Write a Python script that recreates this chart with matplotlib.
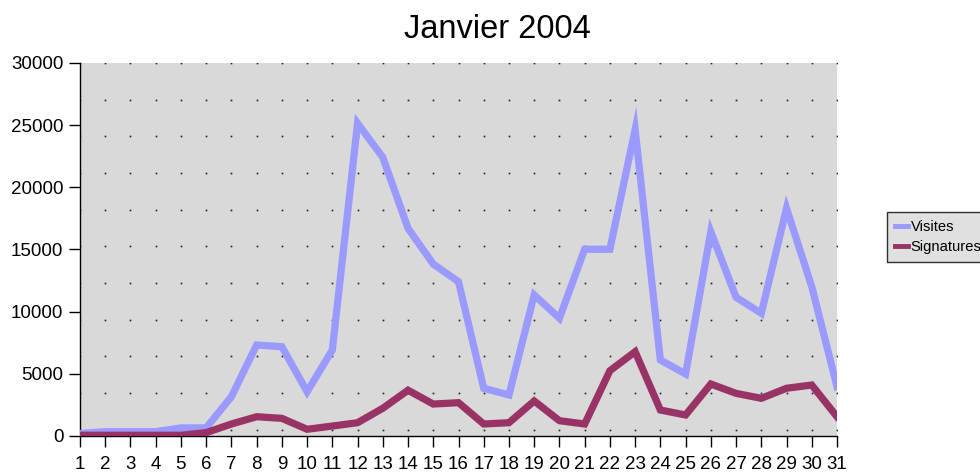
import matplotlib
matplotlib.use("Agg")
import matplotlib.pyplot as plt
import numpy as np

plt.rcParams['font.family'] = ['Liberation Sans', 'DejaVu Sans']

days = list(range(1, 32))
visites = [200, 350, 350, 350, 650, 650, 3160, 7320, 7180, 3560, 6920,
           25150, 22410, 16700, 13830, 12410, 3840, 3300, 11340, 9470, 15020,
           15020, 24650, 6110, 4990, 16430, 11160, 9870, 18310, 12010, 3970]
signatures = [60, 60, 60, 60, 60, 270, 965, 1550, 1420, 540, 800,
              1070, 2230, 3680, 2570, 2680, 965, 1070, 2815, 1230, 965,
              5250, 6780, 2090, 1690, 4180, 3430, 3030, 3840, 4100, 1550]
yticks = [0, 5000, 10000, 15000, 20000, 25000, 30000]
title = "Janvier 2004"

fig = plt.figure(figsize=(9.8, 4.72), dpi=100)
ax = fig.add_axes([80/980, 36/472, 757/980, 373/472])
ax.set_facecolor('#d9d9d9')

# dotted background grid
gx, gy = np.meshgrid(days, [30000 - k * 2949.3 for k in range(11)])
ax.plot(gx.ravel(), gy.ravel(), linestyle='none', marker='s', markersize=1.2,
        color='#202020', markeredgewidth=0, zorder=1)

ax.plot(days, visites, color='#9999ff', lw=5.2, label='Visites', zorder=3,
        solid_joinstyle='miter')
ax.plot(days, signatures, color='#993366', lw=5.2, label='Signatures', zorder=4,
        solid_joinstyle='miter')

ax.set_xlim(1, 31)
ax.set_ylim(0, 30000)
ax.set_xticks(days)
ax.set_yticks(yticks)
ax.tick_params(axis='both', direction='out', length=8, width=1, labelsize=13.5,
               color='black')
ax.tick_params(axis='x', pad=6.5)
ax.tick_params(axis='y', pad=4)
for s in ['top', 'right']:
    ax.spines[s].set_visible(False)
for s in ['left', 'bottom']:
    ax.spines[s].set_color('black')
    ax.spines[s].set_linewidth(1)

fig.text(497/980, 1 - 30/472, title, ha='center', va='center', fontsize=23.5)

leg = fig.legend(loc='center left', bbox_to_anchor=(887/980, 1 - 237/472),
                 fontsize=10.6, frameon=True, fancybox=False, handlelength=0.9,
                 handletextpad=0.15, borderpad=0.55, labelspacing=0.45,
                 borderaxespad=0)
leg.get_frame().set_edgecolor('black')
leg.get_frame().set_facecolor('#d9d9d9')
leg.get_frame().set_linewidth(1)
leg._legend_box.align = 'left'
for l in leg.get_lines():
    l.set_linewidth(3.5)

fig.savefig('out.png', dpi=100)
